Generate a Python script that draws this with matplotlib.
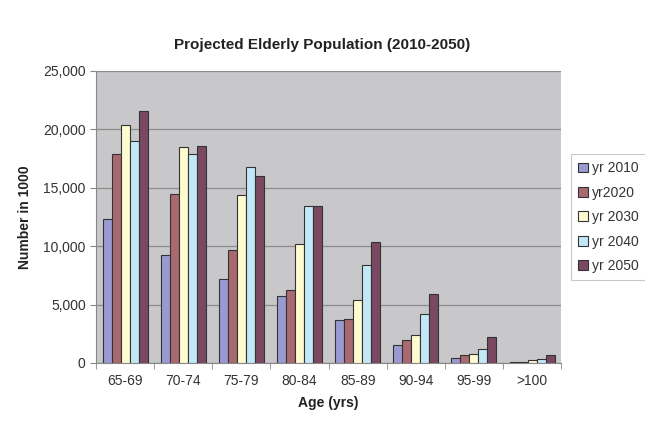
import matplotlib
matplotlib.use("Agg")
from matplotlib import pyplot as plt
from matplotlib.ticker import FuncFormatter
import numpy as np

plt.rcParams['font.family'] = ['Liberation Sans', 'DejaVu Sans']

ages = ["65-69", "70-74", "75-79", "80-84", "85-89", "90-94", "95-99", ">100"]
series_names = ["yr 2010", "yr2020", "yr 2030", "yr 2040", "yr 2050"]
yr2010 = [12300, 9200, 7200, 5700, 3650, 1500, 400, 100]
yr2020 = [17850, 14500, 9650, 6250, 3750, 1950, 700, 100]
yr2030 = [20400, 18450, 14400, 10150, 5400, 2350, 800, 250]
yr2040 = [19000, 17900, 16800, 13400, 8400, 4150, 1200, 350]
yr2050 = [21550, 18600, 16000, 13400, 10350, 5900, 2250, 650]
values = [yr2010, yr2020, yr2030, yr2040, yr2050]
colors = ["#9a9ad2", "#a86a70", "#fffbd0", "#c2e8f8", "#7b4862"]

fig = plt.figure(figsize=(6.45, 4.24), dpi=100)
ax = fig.add_axes([0.149, 0.144, 0.721, 0.689])
ax.set_facecolor("#c8c8ca")

x = np.arange(len(ages))
w = 0.155
for i, (vals, name, c) in enumerate(zip(values, series_names, colors)):
    ax.bar(x + (i - 2) * w, vals, width=w, color=c, edgecolor="#333333",
           linewidth=0.8, label=name, zorder=3)

ax.set_xlim(-0.5, len(ages) - 0.5)
ax.set_ylim(0, 25000)
ax.set_yticks(np.arange(0, 25001, 5000))
ax.yaxis.set_major_formatter(FuncFormatter(lambda v, p: f"{int(v):,}"))
ax.yaxis.grid(True, color="#8c8c8c", linewidth=0.9, zorder=0)
ax.set_xticks(x)
ax.set_xticklabels(ages)
ax.set_xticks(np.arange(-0.5, len(ages), 1), minor=True)
ax.tick_params(axis="x", which="major", length=0, pad=8, labelsize=10, labelcolor="#333333")
ax.tick_params(axis="x", which="minor", length=4, color="#888888")
ax.tick_params(axis="y", length=4, color="#888888", labelsize=10, labelcolor="#333333")

for s in ["top", "right"]:
    ax.spines[s].set_visible(False)
ax.spines["left"].set_color("#888888")
ax.spines["bottom"].set_color("#888888")

ax.set_xlabel("Age (yrs)", fontsize=10, fontweight="bold", color="#222222", labelpad=6)
ax.set_ylabel("Number in 1000", fontsize=10, fontweight="bold", color="#222222", labelpad=8)
fig.suptitle("Projected Elderly Population (2010-2050)", fontsize=11, fontweight="bold",
             color="#222222", x=0.5, y=0.91)

leg = fig.legend(loc="upper left", bbox_to_anchor=(0.886, 0.636), frameon=True,
                 fancybox=False, edgecolor="#bbbbbb", fontsize=10,
                 handlelength=0.7, handleheight=0.7, handletextpad=0.3,
                 labelspacing=0.75, borderpad=0.5, borderaxespad=0,
                 labelcolor="#333333")
leg.get_frame().set_linewidth(0.8)

plt.savefig("out.png", dpi=100)
